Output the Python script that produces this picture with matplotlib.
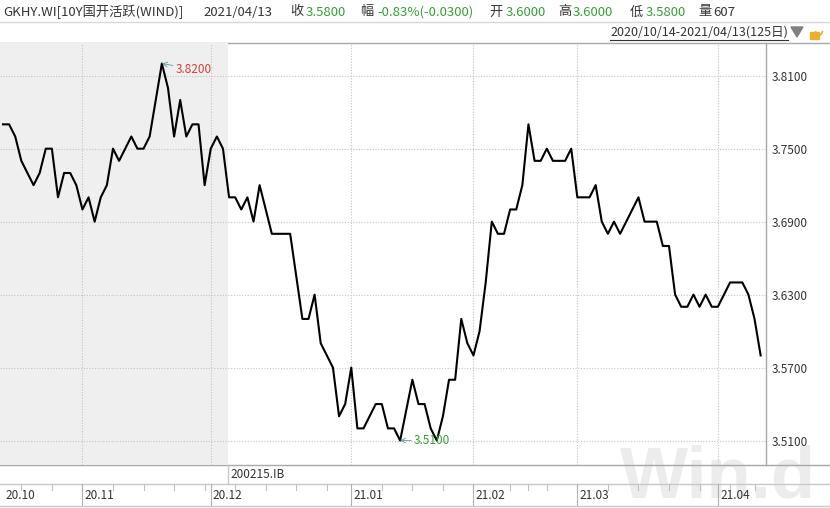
import numpy as np
import pandas as pd
import matplotlib.pyplot as plt
from matplotlib.patches import Rectangle, Polygon, Arc

plt.rcParams['font.family'] = ['Noto Sans CJK SC', 'DejaVu Sans']

# daily close, 10Y CDB active bond (200215.IB), 125 trading days
closes = [3.77, 3.77, 3.76, 3.74, 3.73, 3.72, 3.73, 3.75, 3.75, 3.71,
          3.73, 3.73, 3.72, 3.70, 3.71, 3.69, 3.71, 3.72, 3.75, 3.74,
          3.75, 3.76, 3.75, 3.75, 3.76, 3.79, 3.82, 3.80, 3.76, 3.79,
          3.76, 3.77, 3.77, 3.72, 3.75, 3.76, 3.75, 3.71, 3.71, 3.70,
          3.71, 3.69, 3.72, 3.70, 3.68, 3.68, 3.68, 3.68, 3.645, 3.61,
          3.61, 3.63, 3.59, 3.58, 3.57, 3.53, 3.54, 3.57, 3.52, 3.52,
          3.53, 3.54, 3.54, 3.52, 3.52, 3.51, 3.535, 3.56, 3.54, 3.54,
          3.52, 3.51, 3.53, 3.56, 3.56, 3.61, 3.59, 3.58, 3.60, 3.64,
          3.69, 3.68, 3.68, 3.70, 3.70, 3.72, 3.77, 3.74, 3.74, 3.75,
          3.74, 3.74, 3.74, 3.75, 3.71, 3.71, 3.71, 3.72, 3.69, 3.68,
          3.69, 3.68, 3.69, 3.70, 3.71, 3.69, 3.69, 3.69, 3.67, 3.67,
          3.63, 3.62, 3.62, 3.63, 3.62, 3.63, 3.62, 3.62, 3.63, 3.64,
          3.64, 3.64, 3.63, 3.61, 3.58]

holidays = ['2021-01-01', '2021-02-11', '2021-02-12', '2021-02-15',
            '2021-02-16', '2021-02-17', '2021-04-05']
extra_workdays = ['2021-02-07', '2021-02-20']
y_ticks = [3.51, 3.57, 3.63, 3.69, 3.75, 3.81]

header_items = [
    ('GKHY.WI[10Y国开活跃(WIND)]', '#333333'), ('2021/04/13', '#333333'),
    ('收', '#333333'), ('3.5800', '#3c9a3c'),
    ('幅', '#333333'), ('-0.83%(-0.0300)', '#3c9a3c'),
    ('开', '#333333'), ('3.6000', '#3c9a3c'),
    ('高', '#333333'), ('3.6000', '#3c9a3c'),
    ('低', '#333333'), ('3.5800', '#3c9a3c'),
    ('量', '#333333'), ('607', '#333333'),
]
header_x = [3, 203, 290, 306, 360, 377, 489, 506, 558, 573, 630, 646, 698, 713]

# trading calendar
dates = pd.bdate_range('2020-10-14', '2021-04-13')
dates = dates.difference(pd.to_datetime(holidays)).union(pd.to_datetime(extra_workdays))
x = np.arange(len(dates))
month_starts = [0] + [i for i in range(1, len(dates)) if dates[i].month != dates[i - 1].month]
month_labels = [dates[i].strftime('%y.%m') for i in month_starts]
weeks = dates.isocalendar().week.values
week_starts = [i for i in range(1, len(dates)) if weeks[i] != weeks[i - 1]]

W, H = 830, 508
def box(l, t, r, b):
    return [l / W, 1 - b / H, (r - l) / W, (b - t) / H]

fig = plt.figure(figsize=(8.3, 5.08), dpi=100)

# background layer in pixel coords
bg = fig.add_axes([0, 0, 1, 1], zorder=0)
bg.set_xlim(0, W)
bg.set_ylim(H, 0)
bg.axis('off')
bg.text(620, 497, 'Win.d', fontsize=52, fontweight='bold', family='Liberation Sans',
        color='#ececec', ha='left', va='baseline', zorder=1)
for (txt, col), hx in zip(header_items, header_x):
    bg.text(hx, 12, txt, fontsize=9.5, color=col, ha='left', va='center', zorder=3)
bg.text(788, 32, '2020/10/14-2021/04/13(125日)', fontsize=9, color='#333333',
        ha='right', va='center', zorder=3)
bg.plot([610, 788], [40, 40], color='#333333', lw=0.8, zorder=3)
bg.add_patch(Polygon([(791, 27), (803, 27), (797, 37)], color='#808080', zorder=3))
bg.add_patch(Rectangle((810, 32), 9, 7, color='#e8b030', zorder=3))
bg.add_patch(Arc((819, 31), 7, 8, theta1=0, theta2=180, color='#e8b030', lw=1.2, zorder=3))
for yy, c in [(21.5, '#d8d8d8'), (42.5, '#a8a8a8'), (465, '#a8a8a8'),
              (483.5, '#c8c8c8'), (506, '#c8c8c8')]:
    bg.plot([0, W], [yy, yy], color=c, lw=1, zorder=2)
bg.plot([228, 228], [465, 483.5], color='#c8c8c8', lw=1, zorder=2)
bg.plot([766, 766], [42.5, 465], color='#a8a8a8', lw=1, zorder=2)
bg.text(230, 474.5, '200215.IB', fontsize=8.5, color='#333333', ha='left', va='center', zorder=3)

# main price panel
x_lo, x_hi = -3 / 6.11, 763 / 6.11
ax = fig.add_axes(box(0, 42.5, 766, 465), zorder=1)
ax.patch.set_alpha(0)
ax.set_xlim(x_lo, x_hi)
ax.set_ylim(3.4899, 3.8373)
ax.axvspan(x_lo, 36.8, color='#efefef', lw=0, zorder=0)
for m in month_starts[1:]:
    ax.axvline(m, color='#c4c4c4', lw=0.8, ls=(0, (1, 1.5)), zorder=1)
for t in y_ticks:
    ax.axhline(t, color='#c4c4c4', lw=0.8, ls=(0, (1, 1.5)), zorder=1)
ax.plot(x, closes, color='black', lw=1.5, zorder=3)

i_hi = int(np.argmax(closes))
i_lo = int(np.argmin(closes))
ax.annotate(f'{closes[i_hi]:.4f}', xy=(i_hi, closes[i_hi]), xytext=(10, -4),
            textcoords='offset points', ha='left', va='center', fontsize=8.5, color='#d04040',
            arrowprops=dict(arrowstyle='->', color='#5f9ea0', lw=0.6, shrinkA=0, shrinkB=0))
ax.annotate(f'{closes[i_lo]:.4f}', xy=(i_lo, closes[i_lo]), xytext=(10, 0),
            textcoords='offset points', ha='left', va='center', fontsize=8.5, color='#3c9a3c',
            arrowprops=dict(arrowstyle='->', color='#5f9ea0', lw=0.6, shrinkA=0, shrinkB=0))

ax.set_xticks([])
ax.yaxis.tick_right()
ax.set_yticks(y_ticks)
ax.set_yticklabels([f'{t:.4f}' for t in y_ticks])
ax.tick_params(axis='y', length=0, pad=4, labelsize=8.5, labelcolor='#333333')
for s in ax.spines.values():
    s.set_visible(False)

# month label row
lab = fig.add_axes(box(0, 483.5, 766, 506), zorder=2)
lab.patch.set_alpha(0)
lab.set_xlim(x_lo, x_hi)
lab.set_ylim(0, 1)
lab.axis('off')
for m, lbl in zip(month_starts, month_labels):
    if m > 0:
        lab.axvline(m, color='#b0b0b0', lw=0.8)
    lab.text(m + 0.35, 0.45, lbl, fontsize=8.5, color='#333333', ha='left', va='center')
for w in week_starts:
    if w not in month_starts:
        lab.plot([w, w], [1, 0.72], color='#c0c0c0', lw=0.8)

fig.savefig('out.png', dpi=100)
